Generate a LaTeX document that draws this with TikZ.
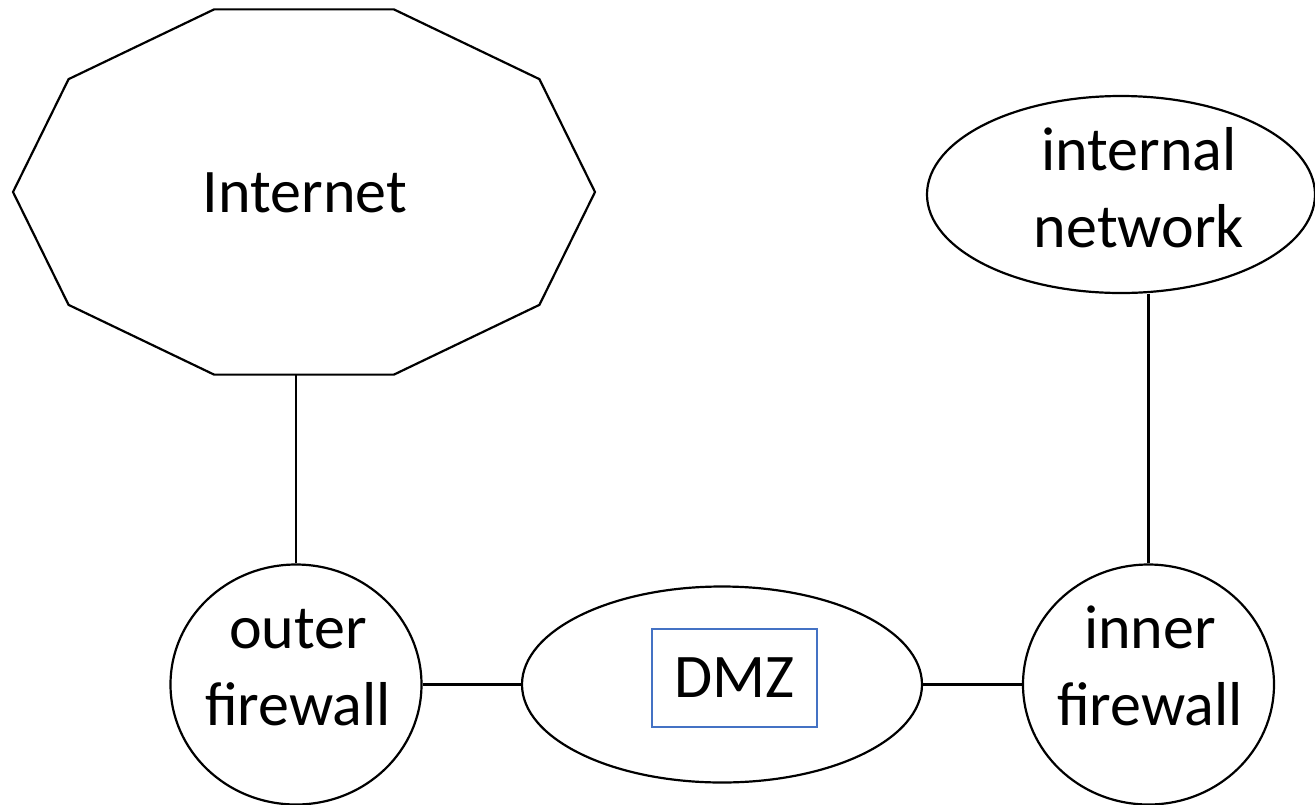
\documentclass[tikz,border=0pt]{standalone}
\usepackage{fontspec}
\setmainfont{Carlito}
\usetikzlibrary{shapes.geometric}
\definecolor{dmzblue}{HTML}{4472C4}
\begin{document}
\begin{tikzpicture}[x=1pt,y=-1pt,
  edge/.style={line width=2.2pt, black},
  ell/.style={ellipse, draw, line width=2.2pt, inner sep=0pt},
  lbl/.style={font=\fontsize{62}{77}\selectfont, align=center, inner sep=0pt, anchor=base}]
\useasboundingbox (0,0) rectangle (1315,804);
% Internet decagon
\coordinate (inetC) at (304,192);
\coordinate (inetS) at (304,374);
\draw[edge, shift={(inetC)}] (0:291 and 192)
  \foreach \a in {36,72,...,324} { -- (\a:291 and 192) } -- cycle;
\node[lbl] (inet) at (305,212) {Internet};
% internal network
\node[ell, minimum width=388pt, minimum height=197pt] (net) at (1121,194.5) {};
\node[lbl] (netT) at (1139,247) {internal\\network};
% outer firewall
\node[ell, minimum width=251pt, minimum height=240pt] (ofw) at (296,684.5) {};
\node[lbl] (ofwT) at (298,725) {outer\\firewall};
% DMZ
\node[ell, minimum width=400pt, minimum height=196pt] (dmz) at (722,684.5) {};
\node[draw=dmzblue, line width=1.4pt, minimum width=165pt, minimum height=98pt,
  inner sep=0pt, font=\fontsize{62}{77}\selectfont] (dmzT) at (734.5,678) {DMZ};
% inner firewall
\node[ell, minimum width=251pt, minimum height=240pt] (ifw) at (1148.5,684.5) {};
\node[lbl] (ifwT) at (1150,725) {inner\\firewall};
% connectors
\draw[edge] (ofw.north) -- (ofw.north |- inetS);
\draw[edge] (ifw.north) -- (ifw.north |- net.south);
\draw[edge] (ofw.east) -- (dmz.west);
\draw[edge] (dmz.east) -- (ifw.west);
\end{tikzpicture}
\end{document}
